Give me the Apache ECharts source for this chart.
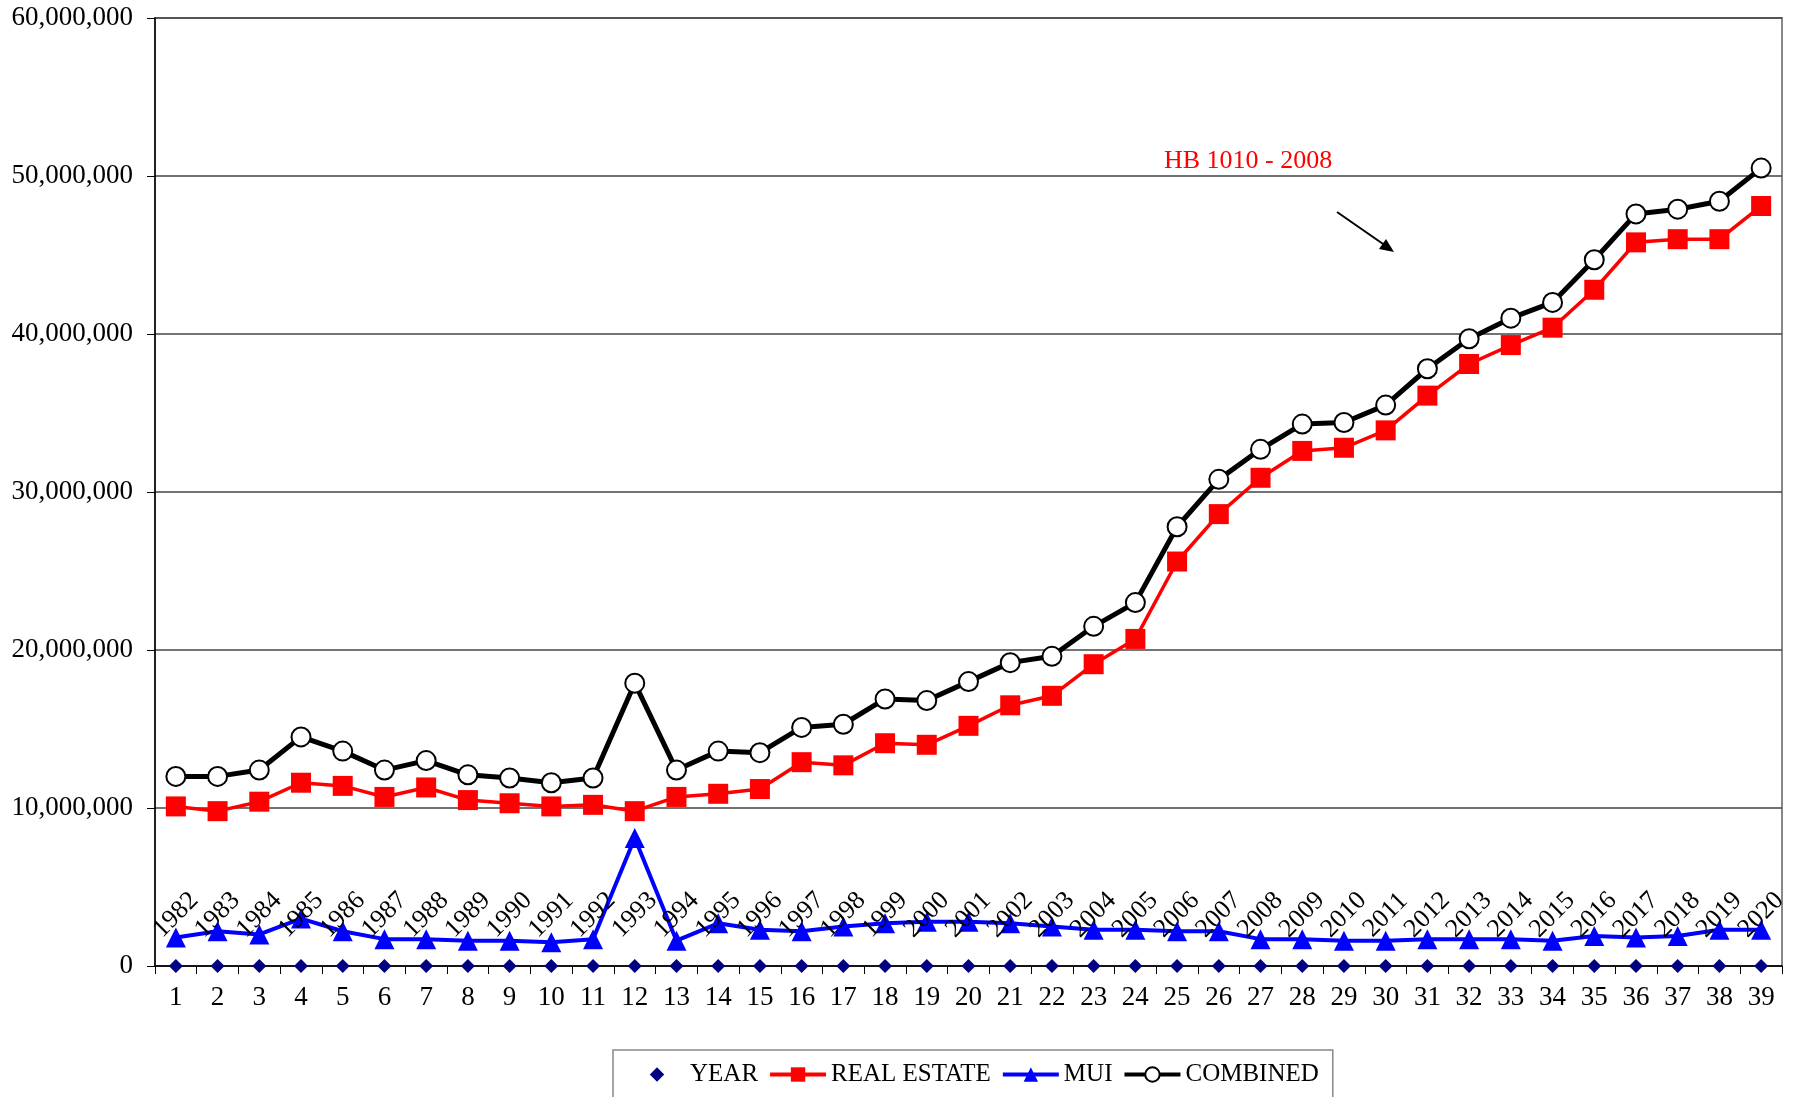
<!DOCTYPE html>
<html>
<head>
<meta charset="utf-8">
<script src="https://cdn.jsdelivr.net/npm/echarts@6/dist/echarts.min.js"></script>
<style>
  html, body { margin: 0; padding: 0; background: #fff; }
  #chart { width: 1803px; height: 1097px; }
</style>
</head>
<body>
<div id="chart"></div>
<script>
// categories on the x axis
const categories = ['1','2','3','4','5','6','7','8','9','10','11','12','13','14','15','16','17','18','19','20',
  '21','22','23','24','25','26','27','28','29','30','31','32','33','34','35','36','37','38','39'];
// YEAR series (plotted at its value, which is ~0 on this scale)
const years = [1982,1983,1984,1985,1986,1987,1988,1989,1990,1991,1992,1993,1994,1995,1996,1997,1998,1999,2000,
  2001,2002,2003,2004,2005,2006,2007,2008,2009,2010,2011,2012,2013,2014,2015,2016,2017,2018,2019,2020];
const realEstate = [10100000,9800000,10400000,11600000,11400000,10700000,11300000,10500000,10300000,10100000,
  10200000,9800000,10700000,10900000,11200000,12900000,12700000,14100000,14000000,15200000,
  16500000,17100000,19100000,20700000,25600000,28600000,30900000,32600000,32800000,33900000,
  36100000,38100000,39300000,40400000,42800000,45800000,46000000,46000000,48100000];
const mui = [1800000,2200000,2000000,3000000,2200000,1700000,1700000,1600000,1600000,1500000,
  1700000,8100000,1600000,2700000,2300000,2200000,2500000,2700000,2800000,2800000,
  2700000,2500000,2300000,2300000,2200000,2200000,1700000,1700000,1600000,1600000,
  1700000,1700000,1700000,1600000,1900000,1800000,1900000,2300000,2300000];
const combined = [12000000,12000000,12400000,14500000,13600000,12400000,13000000,12100000,11900000,11600000,
  11900000,17900000,12400000,13600000,13500000,15100000,15300000,16900000,16800000,18000000,
  19200000,19600000,21500000,23000000,27800000,30800000,32700000,34300000,34400000,35500000,
  37800000,39700000,41000000,42000000,44700000,47600000,47900000,48400000,50500000];

const font = 'Liberation Serif, Times New Roman, serif';

const chart = echarts.init(document.getElementById('chart'));
chart.setOption({
  animation: false,
  backgroundColor: '#fff',
  textStyle: { fontFamily: font },
  grid: {
    left: 155, right: 21, top: 18, bottom: 131,
    show: true, borderColor: '#888', borderWidth: 2
  },
  legend: {
    left: 613, top: 1050,
    padding: [12, 14, 20, 14],
    borderColor: '#888', borderWidth: 1.5,
    itemWidth: 56, itemHeight: 18, itemGap: 10,
    lineStyle: { width: 4 },
    textStyle: { fontFamily: font, fontSize: 25, color: '#000' },
    data: ['YEAR', 'REAL ESTATE', 'MUI', 'COMBINED']
  },
  xAxis: {
    type: 'category',
    data: categories,
    boundaryGap: true,
    axisLine: { lineStyle: { color: '#000', width: 1.5 } },
    axisTick: { show: true, length: 8, lineStyle: { color: '#000' } },
    axisLabel: { fontFamily: font, fontSize: 27, color: '#000', margin: 18, interval: 0 }
  },
  yAxis: {
    type: 'value',
    min: 0, max: 60000000, interval: 10000000,
    axisLine: { show: true, lineStyle: { color: '#000', width: 1.5 } },
    axisTick: { show: true, length: 8, lineStyle: { color: '#000' } },
    axisLabel: {
      fontFamily: font, fontSize: 27, color: '#000', margin: 22,
      formatter: v => v.toLocaleString('en-US')
    },
    splitLine: { lineStyle: { color: '#444', width: 1.5 } }
  },
  series: [
    {
      name: 'YEAR', type: 'line', data: years,
      symbol: 'diamond', symbolSize: 14,
      itemStyle: { color: '#000080' },
      lineStyle: { width: 0, opacity: 0 },
      label: {
        show: true, position: 'top', distance: 44, rotate: 45,
        align: 'center', verticalAlign: 'middle',
        fontFamily: font, fontSize: 26, color: '#000'
      },
      z: 5
    },
    {
      name: 'REAL ESTATE', type: 'line', data: realEstate,
      symbol: 'rect', symbolSize: 20,
      itemStyle: { color: '#ff0000' },
      lineStyle: { color: '#ff0000', width: 3.5 },
      z: 3
    },
    {
      name: 'MUI', type: 'line', data: mui,
      symbol: 'triangle', symbolSize: 20,
      itemStyle: { color: '#0000ff' },
      lineStyle: { color: '#0000ff', width: 4 },
      z: 2
    },
    {
      name: 'COMBINED', type: 'line', data: combined,
      symbol: 'circle', symbolSize: 19,
      itemStyle: { color: '#fff', borderColor: '#000', borderWidth: 2 },
      lineStyle: { color: '#000', width: 5 },
      z: 4
    }
  ],
  graphic: [
    {
      type: 'text', left: 1164, top: 148,
      style: { text: 'HB 1010 - 2008', fill: '#ff0000', font: '26px ' + font }
    },
    {
      type: 'line',
      shape: { x1: 1337, y1: 212, x2: 1386, y2: 246 },
      style: { stroke: '#000', lineWidth: 2 }
    },
    {
      type: 'polygon',
      shape: { points: [[1394, 252], [1386, 239], [1379, 249]] },
      style: { fill: '#000' }
    }
  ]
});
</script>
</body>
</html>
